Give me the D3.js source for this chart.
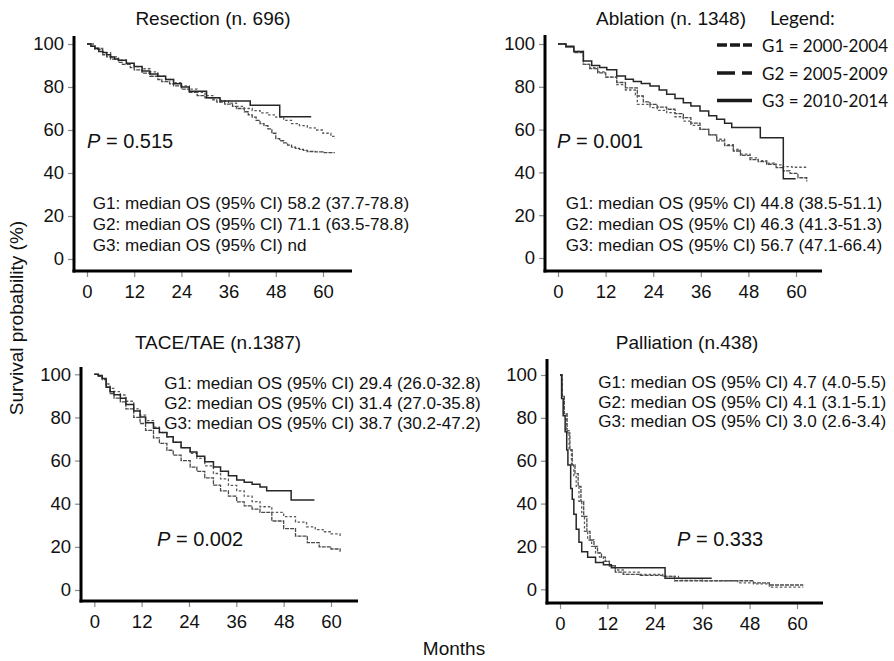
<!DOCTYPE html>
<html>
<head>
<meta charset="utf-8">
<script src="https://cdn.jsdelivr.net/npm/d3@7"></script>
<style>
  body { margin: 0; background: #fff; }
  svg { display: block; }
</style>
</head>
<body>
<script>
// ---- data ----
const xTicks = [0, 12, 24, 36, 48, 60];
const yTicks = [0, 20, 40, 60, 80, 100];
const groupNames = ["G1 = 2000-2004", "G2 = 2005-2009", "G3 = 2010-2014"];
const titles = ["Resection (n. 696)", "Ablation (n. 1348)", "TACE/TAE (n.1387)", "Palliation (n.438)"];
const pValues = ["0.515", "0.001", "0.002", "0.333"];
const medianOS = [
  ["58.2 (37.7-78.8)", "71.1 (63.5-78.8)", "nd"],
  ["44.8 (38.5-51.1)", "46.3 (41.3-51.3)", "56.7 (47.1-66.4)"],
  ["29.4 (26.0-32.8)", "31.4 (27.0-35.8)", "38.7 (30.2-47.2)"],
  ["4.7 (4.0-5.5)", "4.1 (3.1-5.1)", "3.0 (2.6-3.4)"]
];

// [month, survival %]
const resG1 = [[0,100],[1,99],[2,97.5],[4,95],[5,94],[6,93],[8,91.5],[9,90.5],[11,89],[12,88],[14,86.5],[16,85],[18,83.5],[19,82.5],[21,81.5],[22,80.5],[24,79],[26,77.5],[28,76],[30,75],[32,74],[33,73],[35,72],[37,71],[38,70],[40,68.5],[41,67],[42,66],[43,64.5],[44,63],[45,62],[46,60.5],[47,58.5],[48,56],[49,55],[50,54],[51,53],[52,52],[53,51.5],[54,51],[55,50.5],[56,50],[58,49.8],[60,49.5],[63,49.5]];
const resG2 = [[0,100],[2,98],[4,96],[6,94],[8,92.5],[10,91],[12,89.5],[14,88.5],[16,87],[18,85],[20,83.5],[22,82],[24,80.5],[26,79],[28,77.5],[30,76],[32,75],[34,73.5],[36,72.5],[38,71],[40,70],[42,69],[44,68],[46,67],[48,66],[50,64.5],[52,63],[54,62],[56,61],[58,60],[60,58.5],[62,57],[63,56]];
const resG3 = [[0,100],[1,99],[2,98],[3,96.5],[4,96],[5,95],[6,94],[7,93],[8,92.5],[10,91],[12,89.5],[14,87.5],[16,86],[18,85],[20,83.5],[22,81.5],[24,80],[26,78],[30.4,75],[33.8,73.5],[41.5,71.5],[49,66.2],[57,66.2]];

const ablG1 = [[0,100],[2,98.5],[4,96],[6.4,90.5],[8,88.5],[10,86.5],[12,84.5],[14.8,82],[17,79.5],[20,75.7],[21.5,73],[23.2,71.8],[25,70.5],[27.4,69.5],[29.5,67.5],[31.6,65.6],[33.5,63],[35.8,60.1],[38,57.5],[40,54.7],[42,52.5],[44.2,50],[46,48],[48.4,46],[50.5,45],[52.6,43.8],[55,42.2],[56.8,40.7],[58.5,39.5],[60.5,37.5],[62.7,35.7]];
const ablG2 = [[0,100],[2,98.5],[4,96.5],[6.4,90.5],[8,89],[10,87],[12,84.5],[14.8,81],[17,78.5],[19.5,76],[20,71.8],[23.2,70.3],[25,69],[27.4,67.9],[29.5,66],[31.6,64],[33.5,62],[35.8,60.1],[38,57.5],[40,55.5],[42,53],[44.2,50.8],[46,48.5],[48.4,46.8],[50.5,45.5],[52.6,44.3],[54.5,43.5],[56.8,42.7],[59,42.4],[62.7,42.2]];
const ablG3 = [[0,100],[2,99],[4,96.5],[6.4,92],[8.5,90],[10.5,89],[12.3,88],[14.8,85],[17,83.5],[19,82.5],[21,81.5],[23.2,80.4],[25.5,78.5],[27.4,76.5],[29.5,74.5],[31.6,72.6],[33.5,71],[35.8,68.7],[38,66.5],[40,64.8],[42,63],[43.8,61],[51,56.2],[56.8,37],[59.9,37]];

const taceG1 = [[0,100],[1,99],[2,97.5],[3,94],[4,91],[5,89],[6.6,87.2],[8,84],[10,80],[11.6,77.2],[13,74],[15,70.5],[16.5,68],[18.4,64.8],[20,62.5],[22,60],[24.3,57],[26,55],[28,52],[30.2,48.6],[32,46],[34,43.5],[36.1,40.9],[38,39],[40,37.5],[42,36],[45,32],[48,28.5],[51,25],[54,22],[57,20],[60,19],[62.3,17.7]];
const taceG2 = [[0,100],[1,99.5],[2,98],[3,95.5],[4,93.5],[5,92],[6.6,90.4],[8,87.5],[10,84],[11.6,81.1],[13,78.5],[15,75.5],[16.5,73],[18.4,71],[20,68.5],[22,66],[24.3,63.4],[26,61],[28,57.5],[30.2,54],[32,51.5],[34,48.5],[36.1,46],[38,43.5],[40,41],[42,38.6],[45,36],[48,34],[51,31.5],[53.8,29.3],[56,28],[58,27],[60,26],[62.3,25]];
const taceG3 = [[0,100],[1,99.5],[2,98],[3,94],[4,91.9],[5,90.5],[6.6,88.9],[8,86],[10,83],[11.6,80.2],[13,77.5],[15,75],[16.5,73],[18.4,71],[20,68.5],[22,66],[24.3,64],[26,62],[28,59.5],[30.2,57],[32,55],[34,53],[36.1,51],[38,50],[40,49],[42,47.8],[43.7,46],[49.9,41.7],[55.8,41.7]];

const palG1 = [[0,100],[0.6,90],[1.1,82],[1.8,73],[2.5,65],[3.1,58],[3.8,54],[4.6,48],[5.3,41],[6,34],[6.8,27],[7.6,23],[8.6,20],[9.5,17],[10.5,15],[11.5,13],[12.5,11],[14,8],[16,7],[20,6.5],[26,6],[29,4],[40,4],[49,3],[53,2],[61.6,2]];
const palG2 = [[0,100],[0.5,90],[1,82],[1.6,74],[2.3,65],[2.9,58],[3.5,53],[4.1,48],[4.8,41],[5.5,34],[6.2,27],[7,23],[8,20],[9,17],[10,15],[11,13],[12.5,11],[14,9],[16,8],[20,7],[26,6],[30,5],[36,4],[45,3],[49,2.5],[53,1],[61.6,1]];
const palG3 = [[0,100],[0.4,89],[0.8,81],[1.3,73.5],[1.7,65],[2,58],[2.7,47],[3.1,42],[3.5,35],[4.1,28],[4.8,22],[5.5,17.5],[7,15],[9,12.5],[11,11.5],[13,10],[26.6,5.1],[38.4,5.1]];

const seriesByPanel = [
  [resG1, resG2, resG3],
  [ablG1, ablG2, ablG3],
  [taceG1, taceG2, taceG3],
  [palG1, palG2, palG3]
];

// ---- layout ----
const W = 894, H = 661;
const frames = [
  {axX: 74,  axY: 271, x0: 87,  x60: 323, y100: 44,  y0: 259, top: 36,  right: 352, titleX: 213, titleY: 25,
   pX: 87,  pY: 148, mX: 92.7, mY: 209.3, mStep: 20.7},
  {axX: 545, axY: 271, x0: 558, x60: 796, y100: 44,  y0: 258, top: 35,  right: 822, titleX: 671, titleY: 25,
   pX: 557, pY: 148, mX: 565.7, mY: 209.3, mStep: 20.7},
  {axX: 81,  axY: 601, x0: 94.3, x60: 331, y100: 374.3, y0: 590, top: 367, right: 358, titleX: 218, titleY: 349,
   pX: 157, pY: 546, mX: 164.3, mY: 389, mStep: 20},
  {axX: 547, axY: 603, x0: 560, x60: 797, y100: 375, y0: 589.3, top: 359, right: 823, titleX: 687, titleY: 349,
   pX: 677, pY: 546, mX: 598.3, mY: 388.3, mStep: 19.5}
];
const groupStyle = [
  {stroke: "#4a4a4a", dash: "4,1", width: 1.3},
  {stroke: "#5a5a5a", dash: "2.5,2", width: 1.3},
  {stroke: "#262626", dash: null, width: 1.5}
];
const FONT = "'Liberation Sans', Arial, sans-serif";

const svg = d3.select("body").append("svg")
    .attr("width", W)
    .attr("height", H)
    .attr("font-family", FONT);

frames.forEach(function(f, i) {
  const x = d3.scaleLinear().domain([0, 60]).range([f.x0, f.x60]);
  const y = d3.scaleLinear().domain([0, 100]).range([f.y0, f.y100]);
  const g = svg.append("g");

  // axes
  const ya = g.append("g")
      .attr("transform", "translate(" + f.axX + ",0)")
      .call(d3.axisLeft(y).tickValues(yTicks).tickSize(6).tickPadding(4));
  const xa = g.append("g")
      .attr("transform", "translate(0," + f.axY + ")")
      .call(d3.axisBottom(x).tickValues(xTicks).tickSize(6).tickPadding(8));
  [ya, xa].forEach(function(a) {
    a.select(".domain").remove();
    a.selectAll(".tick line").attr("stroke", "#8a8a8a").attr("stroke-width", 1.2);
    a.selectAll(".tick text").attr("font-size", 18.5).attr("font-family", FONT).attr("fill", "#111");
  });
  g.append("line").attr("x1", f.axX).attr("x2", f.axX).attr("y1", f.top).attr("y2", f.axY + 1.5)
      .attr("stroke", "#000").attr("stroke-width", 3);
  g.append("line").attr("x1", f.axX - 1.5).attr("x2", f.right).attr("y1", f.axY).attr("y2", f.axY)
      .attr("stroke", "#000").attr("stroke-width", 3);

  // curves
  const line = d3.line()
      .x(function(d) { return x(d[0]); })
      .y(function(d) { return y(d[1]); })
      .curve(d3.curveStepAfter);
  seriesByPanel[i].forEach(function(s, k) {
    const st = groupStyle[k];
    g.append("path")
        .attr("d", line(s))
        .attr("fill", "none")
        .attr("stroke", st.stroke)
        .attr("stroke-width", st.width)
        .attr("stroke-dasharray", st.dash);
  });

  // title
  g.append("text").attr("x", f.titleX).attr("y", f.titleY)
      .attr("text-anchor", "middle").attr("font-size", 19).attr("fill", "#111")
      .text(titles[i]);

  // P value
  const p = g.append("text").attr("x", f.pX).attr("y", f.pY)
      .attr("font-size", 20).attr("fill", "#111");
  p.append("tspan").attr("font-style", "italic").text("P");
  p.append("tspan").text(" = " + pValues[i]);

  // medians
  medianOS[i].forEach(function(m, k) {
    g.append("text").attr("x", f.mX).attr("y", f.mY + k * f.mStep)
        .attr("font-size", 17.1).attr("fill", "#111")
        .text("G" + (k + 1) + ": median OS (95% CI) " + m);
  });
});

// legend
const legendStyle = [
  {dash: "10,3"},
  {dash: "18,7,10,100"},
  {dash: null}
];
const lg = svg.append("g").attr("font-family", "Lato, 'Open Sans', sans-serif");
lg.append("text").attr("x", 770).attr("y", 25).attr("font-size", 19).attr("fill", "#111").text("Legend:");
groupNames.forEach(function(name, k) {
  const yy = [45, 73, 100.5][k];
  lg.append("line").attr("x1", 717).attr("x2", 752).attr("y1", yy).attr("y2", yy)
      .attr("stroke", "#1a1a1a").attr("stroke-width", 3.5)
      .attr("stroke-dasharray", legendStyle[k].dash);
  lg.append("text").attr("x", 762).attr("y", yy + 6.5).attr("font-size", 17)
      .attr("fill", "#111").text(name);
});

// shared axis titles
svg.append("text")
    .attr("transform", "translate(23,318) rotate(-90)")
    .attr("text-anchor", "middle").attr("font-size", 19).attr("fill", "#111")
    .text("Survival probability (%)");
svg.append("text").attr("x", 454).attr("y", 655)
    .attr("text-anchor", "middle").attr("font-size", 19).attr("fill", "#111")
    .text("Months");
</script>
</body>
</html>
